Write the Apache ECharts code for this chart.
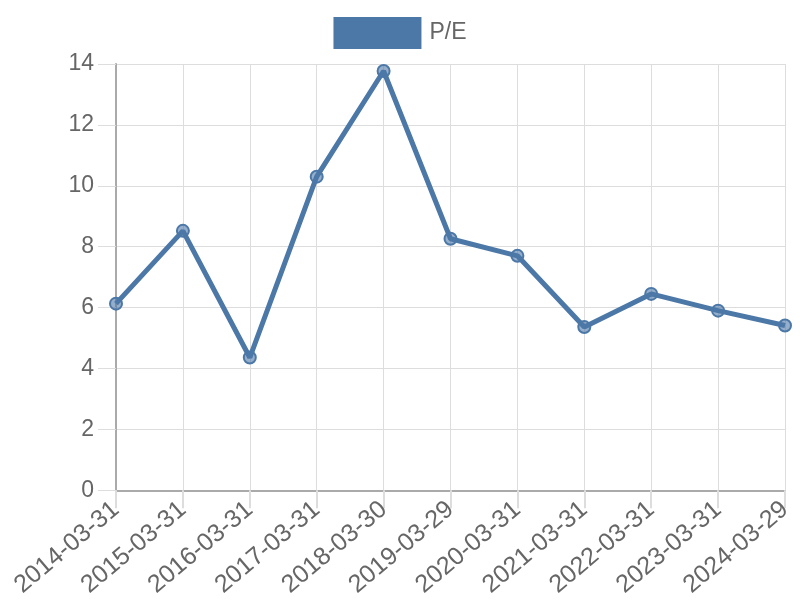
<!DOCTYPE html>
<html><head><meta charset="utf-8">
<script src="https://cdn.jsdelivr.net/npm/echarts@6/dist/echarts.min.js"></script>
<style>html,body{margin:0;padding:0;background:#fff}#c{width:800px;height:600px}</style>
</head><body><div id="c"></div>
<script>
const categories = ['2014-03-31','2015-03-31','2016-03-31','2017-03-31','2018-03-30','2019-03-29','2020-03-31','2021-03-31','2022-03-31','2023-03-31','2024-03-29'];
const peValues = [6.13, 8.52, 4.36, 10.3, 13.77, 8.26, 7.7, 5.36, 6.45, 5.9, 5.41];
const seriesName = 'P/E';
const yTicks = {min: 0, max: 14, interval: 2};

const chart = echarts.init(document.getElementById('c'));
chart.setOption({
  animation: false,
  legend: {
    top: 12, left: 'center',
    itemWidth: 86, itemHeight: 30, itemGap: 10,
    icon: 'rect',
    textStyle: {fontFamily: 'Liberation Sans', fontSize: 23, color: '#666', padding: [0, 0, 0, 4]},
    data: [{name: seriesName, itemStyle: {color: '#4c78a8'}}]
  },
  grid: {left: 116, right: 15, top: 64, bottom: 109, containLabel: false},
  xAxis: {
    type: 'category', data: categories, boundaryGap: false,
    axisLine: {lineStyle: {color: '#aaa', width: 2}},
    axisTick: {show: true, length: 18, lineStyle: {color: '#ddd', width: 2}},
    splitLine: {show: true, lineStyle: {color: '#ddd', width: 1}},
    axisLabel: {rotate: 40, margin: 16, fontFamily: 'Liberation Sans', fontSize: 25, color: '#666'}
  },
  yAxis: {
    type: 'value', min: yTicks.min, max: yTicks.max, interval: yTicks.interval,
    axisLine: {show: true, lineStyle: {color: '#aaa', width: 2}},
    axisTick: {show: true, length: 18, lineStyle: {color: '#ddd'}},
    splitLine: {show: true, lineStyle: {color: '#ddd', width: 1}},
    axisLabel: {margin: 22, fontFamily: 'Liberation Sans', fontSize: 23, color: '#666'}
  },
  series: [{
    name: seriesName, type: 'line', data: peValues,
    symbol: 'circle', symbolSize: 12,
    lineStyle: {color: '#4c78a8', width: 5},
    itemStyle: {color: 'rgba(76,120,168,0.6)', borderColor: '#4c78a8', borderWidth: 2}
  }]
});
</script></body></html>
